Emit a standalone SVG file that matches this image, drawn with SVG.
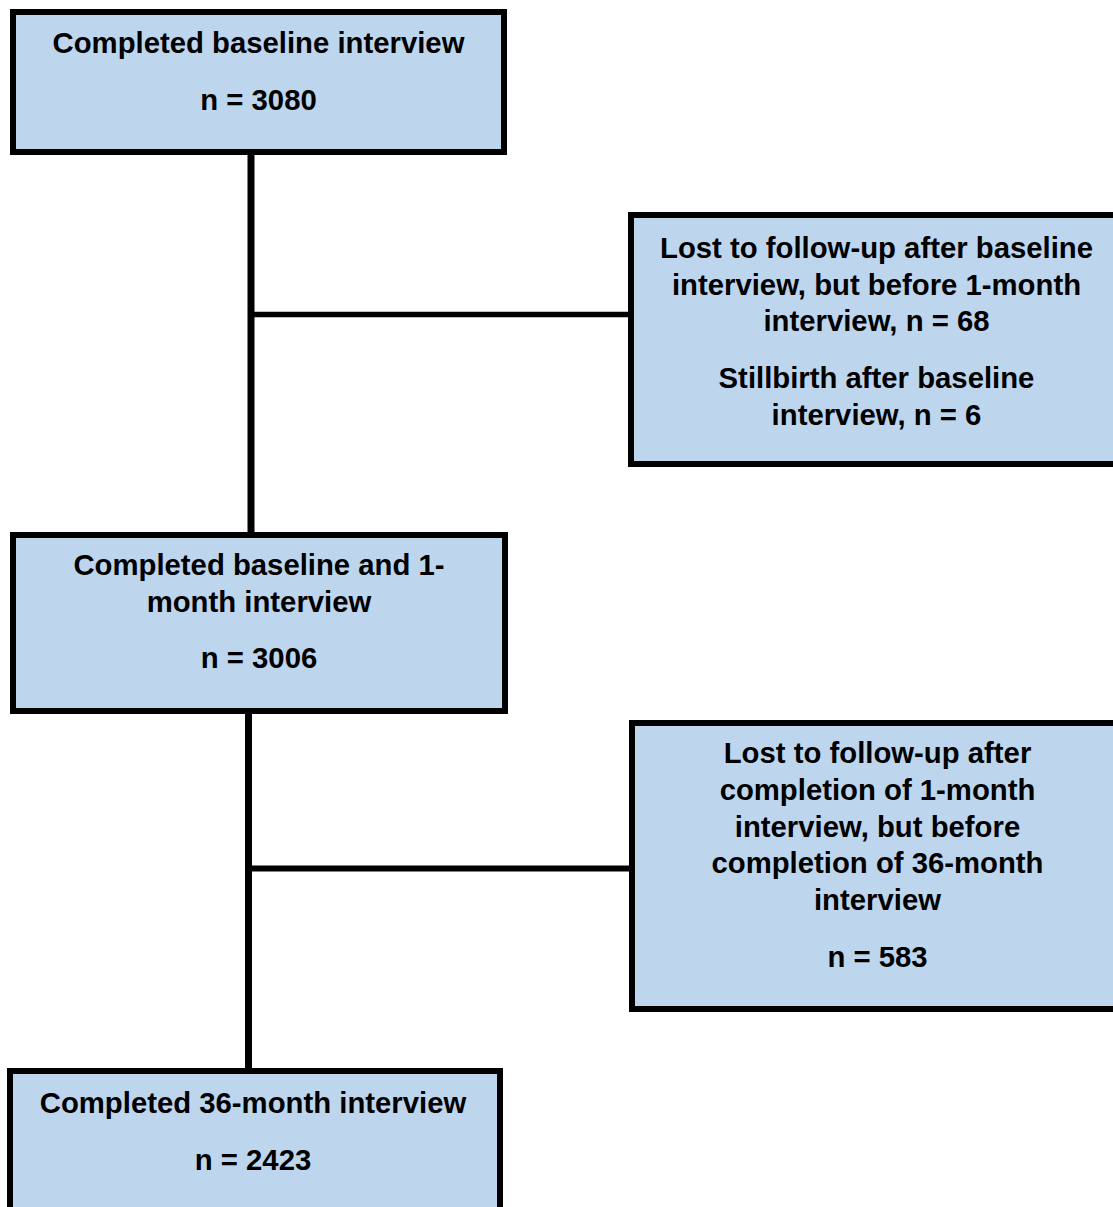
<svg xmlns="http://www.w3.org/2000/svg" width="1113" height="1207" viewBox="0 0 1113 1207">
<style>
.box{fill:#BDD6EE;stroke:#000;stroke-width:6}
.t{font-family:"Liberation Sans",Arial,sans-serif;font-weight:bold;font-size:29.3px;fill:#000;text-anchor:middle}
.c{stroke:#000;fill:none}
</style>
<rect width="1113" height="1207" fill="#fff"/>
<g id="connectors">
<line class="c" x1="251" y1="152" x2="251" y2="535" stroke-width="7"/>
<line class="c" x1="251" y1="314.5" x2="631" y2="314.5" stroke-width="5.5"/>
<line class="c" x1="248.5" y1="711" x2="248.5" y2="1071" stroke-width="7"/>
<line class="c" x1="248" y1="868.5" x2="632" y2="868.5" stroke-width="6"/>
</g>
<g id="n1">
<rect class="box" x="13" y="12" width="491" height="140"/>
<text class="t" x="258.5" y="53">Completed baseline interview</text>
<text class="t" x="258.5" y="110">n = 3080</text>
</g>
<g id="n2">
<rect class="box" x="631" y="215" width="492" height="249"/>
<text class="t" x="876.5" y="258">Lost to follow-up after baseline</text>
<text class="t" x="876.5" y="295">interview, but before 1-month</text>
<text class="t" x="876.5" y="331">interview, n = 68</text>
<text class="t" x="876.5" y="388">Stillbirth after baseline</text>
<text class="t" x="876.5" y="425">interview, n = 6</text>
</g>
<g id="n3">
<rect class="box" x="13" y="535" width="492" height="176"/>
<text class="t" x="259" y="575">Completed baseline and 1-</text>
<text class="t" x="259" y="612">month interview</text>
<text class="t" x="259" y="668">n = 3006</text>
</g>
<g id="n4">
<rect class="box" x="632" y="723" width="492" height="286"/>
<text class="t" x="877.5" y="763">Lost to follow-up after</text>
<text class="t" x="877.5" y="800">completion of 1-month</text>
<text class="t" x="877.5" y="837">interview, but before</text>
<text class="t" x="877.5" y="873">completion of 36-month</text>
<text class="t" x="877.5" y="910">interview</text>
<text class="t" x="877.5" y="967">n = 583</text>
</g>
<g id="n5">
<rect class="box" x="10" y="1071" width="490" height="170"/>
<text class="t" x="253" y="1113">Completed 36-month interview</text>
<text class="t" x="253" y="1170">n = 2423</text>
</g>
</svg>
